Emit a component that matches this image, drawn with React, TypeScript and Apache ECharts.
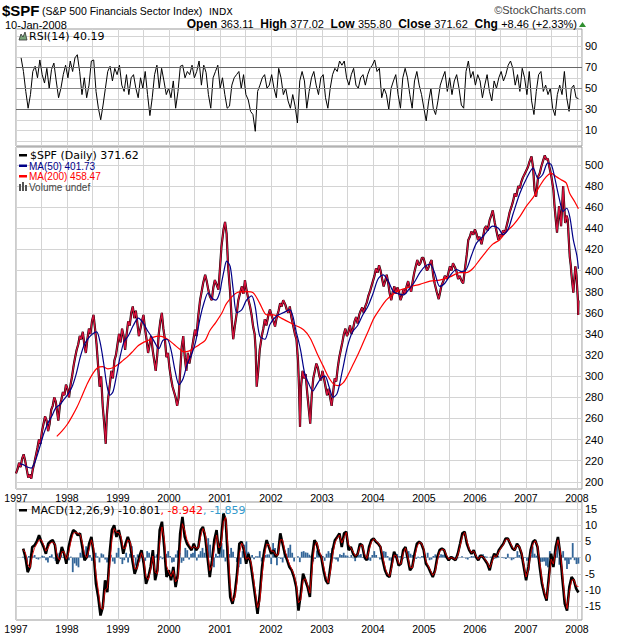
import React, { useEffect, useRef } from "react";
import * as echarts from "echarts";

// ---------- DATA ----------
const yearLabels = [1997, 1998, 1999, 2000, 2001, 2002, 2003, 2004, 2005, 2006, 2007, 2008];
const priceTicks = [200, 220, 240, 260, 280, 300, 320, 340, 360, 380, 400, 420, 440, 460, 480, 500];
const rsiGridTicks = [0, 10, 20, 30, 40, 50, 60, 70, 80, 90, 100];
const rsiLabelTicks = [10, 30, 50, 70, 90];
const macdTicks = [-15, -10, -5, 0, 5, 10, 15];

// $SPF daily close, [decimal year, value]
const spfClose: [number, number][] = [
  [1997.0, 208], [1997.03, 212], [1997.06, 218], [1997.09, 214], [1997.12, 222], [1997.15, 226], [1997.18, 220], [1997.21, 212], [1997.24, 204], [1997.27, 207], [1997.3, 203], [1997.33, 212], [1997.36, 218], [1997.39, 225], [1997.42, 232], [1997.45, 240], [1997.48, 236], [1997.51, 248], [1997.54, 255], [1997.57, 262], [1997.6, 258], [1997.63, 248], [1997.66, 255], [1997.69, 268], [1997.72, 272], [1997.75, 280], [1997.78, 276], [1997.81, 265], [1997.83, 258], [1997.86, 272], [1997.89, 278], [1997.92, 285], [1997.95, 282], [1997.98, 292],
  [1998.01, 288], [1998.04, 280], [1998.07, 292], [1998.1, 300], [1998.13, 310], [1998.16, 318], [1998.19, 325], [1998.22, 330], [1998.25, 338], [1998.28, 335], [1998.31, 342], [1998.34, 330], [1998.37, 322], [1998.4, 335], [1998.43, 345], [1998.46, 340], [1998.49, 352], [1998.52, 358], [1998.55, 345], [1998.58, 330], [1998.61, 310], [1998.64, 290], [1998.67, 300], [1998.7, 272], [1998.73, 255], [1998.76, 236], [1998.78, 262], [1998.81, 280], [1998.84, 292], [1998.87, 305], [1998.9, 298], [1998.93, 315], [1998.96, 320], [1998.99, 330],
  [1999.02, 340], [1999.05, 332], [1999.08, 345], [1999.11, 338], [1999.14, 325], [1999.17, 340], [1999.2, 352], [1999.23, 348], [1999.26, 360], [1999.29, 366], [1999.32, 355], [1999.35, 362], [1999.38, 350], [1999.41, 338], [1999.44, 345], [1999.47, 352], [1999.5, 358], [1999.53, 345], [1999.56, 335], [1999.59, 322], [1999.62, 330], [1999.65, 338], [1999.68, 325], [1999.71, 315], [1999.74, 305], [1999.77, 320], [1999.8, 340], [1999.83, 352], [1999.86, 360], [1999.89, 345], [1999.92, 335], [1999.95, 318], [1999.98, 322],
  [2000.01, 308], [2000.04, 298], [2000.07, 290], [2000.1, 285], [2000.13, 280], [2000.16, 272], [2000.19, 280], [2000.22, 305], [2000.25, 328], [2000.28, 338], [2000.31, 318], [2000.34, 305], [2000.37, 322], [2000.4, 312], [2000.43, 320], [2000.47, 332], [2000.51, 344], [2000.54, 338], [2000.57, 355], [2000.61, 372], [2000.64, 380], [2000.67, 388], [2000.71, 396], [2000.74, 390], [2000.77, 382], [2000.8, 376], [2000.84, 372], [2000.87, 384], [2000.9, 391], [2000.94, 386], [2000.97, 382],
  [2001.0, 402], [2001.03, 423], [2001.07, 439], [2001.1, 446], [2001.13, 435], [2001.16, 404], [2001.2, 379], [2001.23, 354], [2001.26, 335], [2001.29, 347], [2001.33, 360], [2001.36, 372], [2001.4, 380], [2001.43, 385], [2001.46, 378], [2001.49, 391], [2001.52, 382], [2001.56, 372], [2001.59, 366], [2001.62, 358], [2001.65, 347], [2001.68, 340], [2001.7, 325], [2001.72, 290], [2001.75, 305], [2001.78, 325], [2001.82, 338], [2001.85, 345], [2001.88, 354], [2001.91, 348], [2001.95, 358], [2001.98, 363],
  [2002.01, 358], [2002.05, 352], [2002.08, 347], [2002.11, 355], [2002.15, 362], [2002.18, 369], [2002.21, 366], [2002.24, 372], [2002.28, 368], [2002.31, 363], [2002.34, 360], [2002.37, 366], [2002.4, 356], [2002.44, 347], [2002.47, 340], [2002.5, 335], [2002.53, 315], [2002.55, 290], [2002.57, 252], [2002.59, 290], [2002.62, 305], [2002.65, 298], [2002.68, 302], [2002.71, 285], [2002.74, 270], [2002.77, 255], [2002.8, 282], [2002.83, 298], [2002.86, 305], [2002.89, 312], [2002.92, 308], [2002.95, 300], [2002.98, 296],
  [2003.01, 305], [2003.04, 298], [2003.07, 290], [2003.1, 282], [2003.13, 288], [2003.16, 280], [2003.19, 272], [2003.22, 285], [2003.25, 298], [2003.28, 295], [2003.31, 308], [2003.34, 318], [2003.37, 325], [2003.4, 332], [2003.43, 340], [2003.46, 345], [2003.49, 338], [2003.52, 342], [2003.55, 348], [2003.58, 340], [2003.61, 345], [2003.64, 352], [2003.67, 356], [2003.7, 350], [2003.73, 358], [2003.76, 362], [2003.79, 365], [2003.82, 360], [2003.85, 366], [2003.88, 370], [2003.91, 376], [2003.94, 380], [2003.97, 385],
  [2004.0, 390], [2004.03, 395], [2004.06, 402], [2004.09, 398], [2004.12, 405], [2004.15, 400], [2004.18, 392], [2004.21, 385], [2004.24, 390], [2004.27, 396], [2004.3, 388], [2004.33, 378], [2004.36, 372], [2004.39, 380], [2004.42, 385], [2004.45, 378], [2004.48, 384], [2004.51, 380], [2004.54, 372], [2004.57, 376], [2004.6, 382], [2004.63, 378], [2004.66, 385], [2004.69, 390], [2004.72, 384], [2004.75, 380], [2004.78, 390], [2004.81, 398], [2004.84, 404], [2004.87, 410], [2004.9, 405], [2004.93, 407], [2004.96, 412],
  [2004.99, 412], [2005.03, 405], [2005.06, 400], [2005.09, 403], [2005.12, 407], [2005.15, 410], [2005.18, 396], [2005.21, 388], [2005.25, 380], [2005.29, 373], [2005.32, 380], [2005.34, 385], [2005.38, 390], [2005.41, 395], [2005.45, 392], [2005.48, 398], [2005.51, 404], [2005.54, 400], [2005.57, 407], [2005.61, 403], [2005.64, 399], [2005.67, 392], [2005.7, 395], [2005.74, 390], [2005.77, 388], [2005.8, 400], [2005.84, 415], [2005.87, 429], [2005.9, 432], [2005.93, 437], [2005.97, 434],
  [2006.0, 439], [2006.03, 435], [2006.06, 429], [2006.09, 432], [2006.13, 425], [2006.16, 432], [2006.19, 440], [2006.22, 442], [2006.25, 438], [2006.29, 448], [2006.32, 452], [2006.35, 457], [2006.39, 445], [2006.42, 438], [2006.46, 429], [2006.49, 434], [2006.52, 432], [2006.55, 438], [2006.59, 436], [2006.62, 442], [2006.65, 448], [2006.68, 455], [2006.72, 461], [2006.75, 466], [2006.78, 473], [2006.81, 470], [2006.85, 480], [2006.88, 478], [2006.91, 484], [2006.94, 488], [2006.98, 492],
  [2007.01, 495], [2007.04, 498], [2007.07, 503], [2007.11, 508], [2007.14, 498], [2007.17, 476], [2007.2, 470], [2007.22, 480], [2007.24, 489], [2007.27, 492], [2007.3, 498], [2007.33, 503], [2007.37, 509], [2007.4, 505], [2007.43, 506], [2007.46, 498], [2007.5, 489], [2007.54, 476], [2007.56, 462], [2007.58, 451], [2007.61, 436], [2007.63, 448], [2007.65, 461], [2007.67, 452], [2007.69, 442], [2007.71, 460], [2007.73, 480], [2007.75, 462], [2007.77, 445], [2007.8, 452], [2007.82, 448], [2007.84, 430], [2007.86, 413], [2007.88, 405], [2007.89, 398], [2007.91, 388], [2007.93, 379], [2007.95, 392], [2007.97, 404], [2007.99, 396], [2008.0, 388], [2008.02, 372], [2008.025, 358], [2008.03, 371.62],
];

const ma50: [number, number][] = [
  [1997.08, 217], [1997.15, 216], [1997.22, 214], [1997.3, 213], [1997.38, 220], [1997.46, 232], [1997.54, 245], [1997.62, 255], [1997.7, 262], [1997.78, 270], [1997.86, 273], [1997.94, 278], [1998.02, 283], [1998.1, 290], [1998.18, 302], [1998.26, 318], [1998.34, 330], [1998.42, 336], [1998.5, 340], [1998.58, 342], [1998.65, 332], [1998.72, 312], [1998.78, 292], [1998.84, 282], [1998.9, 285], [1998.96, 298],
  [1999.04, 318], [1999.12, 333], [1999.2, 338], [1999.3, 348], [1999.4, 355], [1999.5, 350], [1999.58, 343], [1999.65, 338], [1999.72, 332], [1999.8, 326], [1999.88, 334], [1999.96, 335], [2000.04, 325], [2000.12, 305], [2000.2, 292], [2000.28, 298], [2000.36, 312], [2000.44, 320], [2000.52, 332], [2000.61, 355], [2000.69, 370], [2000.77, 379], [2000.84, 374], [2000.92, 372], [2001.0, 380], [2001.03, 388], [2001.08, 400], [2001.13, 409], [2001.2, 404], [2001.26, 382], [2001.33, 360], [2001.43, 363], [2001.52, 372], [2001.62, 376], [2001.69, 366], [2001.78, 338], [2001.88, 335], [2001.98, 349],
  [2002.11, 357], [2002.24, 360], [2002.37, 363], [2002.5, 341], [2002.58, 325], [2002.66, 303], [2002.74, 293], [2002.82, 286], [2002.9, 292], [2002.98, 298], [2003.06, 300], [2003.14, 290], [2003.22, 280], [2003.3, 284], [2003.4, 305], [2003.5, 328], [2003.6, 342], [2003.7, 348], [2003.8, 358], [2003.9, 366], [2004.0, 378], [2004.1, 392], [2004.2, 396], [2004.3, 390], [2004.4, 380], [2004.5, 378], [2004.6, 377], [2004.7, 382], [2004.8, 388], [2004.92, 398],
  [2005.02, 404], [2005.12, 406], [2005.21, 398], [2005.31, 385], [2005.41, 388], [2005.51, 395], [2005.64, 401], [2005.74, 399], [2005.83, 401], [2005.93, 414], [2006.03, 426], [2006.13, 431], [2006.22, 436], [2006.35, 442], [2006.46, 440], [2006.55, 434], [2006.65, 439], [2006.75, 454], [2006.88, 473], [2007.01, 487], [2007.14, 497], [2007.24, 487], [2007.33, 491], [2007.43, 502], [2007.5, 500], [2007.56, 489], [2007.66, 467], [2007.73, 456], [2007.8, 459], [2007.86, 451], [2007.93, 429], [2008.0, 414], [2008.03, 401.73],
];

const ma200: [number, number][] = [
  [1997.8, 243], [1997.9, 248], [1998.0, 254], [1998.1, 262], [1998.2, 271], [1998.3, 282], [1998.4, 293], [1998.5, 302], [1998.6, 308], [1998.7, 309], [1998.8, 307], [1998.9, 308], [1999.0, 311], [1999.1, 315], [1999.2, 319], [1999.3, 324], [1999.4, 329], [1999.5, 332], [1999.6, 334], [1999.7, 337], [1999.8, 338], [1999.9, 337], [2000.0, 334], [2000.1, 330], [2000.2, 326], [2000.3, 323], [2000.4, 324], [2000.5, 327], [2000.6, 330], [2000.71, 334], [2000.8, 343], [2000.92, 351],
  [2001.04, 360], [2001.13, 369], [2001.33, 379], [2001.52, 380], [2001.65, 379], [2001.78, 369], [2001.92, 358], [2002.05, 358], [2002.24, 354], [2002.44, 349], [2002.64, 344], [2002.77, 336], [2002.9, 322], [2003.02, 310], [2003.12, 300], [2003.22, 293], [2003.32, 291], [2003.42, 294], [2003.52, 302], [2003.62, 312], [2003.72, 322], [2003.82, 333], [2003.92, 344], [2004.02, 355], [2004.14, 364], [2004.26, 372], [2004.38, 377], [2004.5, 381], [2004.62, 383], [2004.75, 385], [2004.92, 387],
  [2005.12, 390], [2005.31, 391], [2005.51, 394], [2005.7, 398], [2005.83, 398], [2005.96, 402], [2006.09, 410], [2006.22, 418], [2006.35, 425], [2006.48, 429], [2006.62, 437], [2006.75, 443], [2006.88, 451], [2007.01, 461], [2007.14, 469], [2007.27, 480], [2007.4, 489], [2007.5, 492], [2007.59, 489], [2007.69, 486], [2007.79, 483], [2007.86, 473], [2007.96, 465], [2008.03, 458.47],
];

// RSI(14), evenly spaced from rsiStart to rsiEnd
const rsiStart = 1997.1;
const rsiEnd = 2008.03;
const rsiValues = [
  79, 66, 47, 31, 44, 66, 71, 60, 77, 63, 55, 69, 50, 68, 74, 57, 41, 50, 63, 72,
  60, 76, 66, 79, 82, 66, 44, 60, 41, 53, 76, 77, 47, 31, 20, 34, 50, 66, 71, 57,
  69, 63, 72, 53, 47, 63, 44, 60, 63, 50, 41, 60, 50, 66, 44, 24, 41, 63, 72, 50,
  69, 57, 44, 50, 41, 57, 31, 47, 71, 72, 60, 66, 63, 72, 60, 66, 76, 53, 72, 65,
  44, 31, 60, 66, 72, 50, 60, 44, 31, 33, 53, 60, 63, 66, 50, 63, 44, 39, 28, 25,
  9, 47, 53, 60, 63, 50, 53, 63, 50, 41, 69, 60, 44, 50, 38, 31, 44, 33, 17, 57,
  66, 57, 31, 47, 60, 66, 53, 44, 60, 63, 41, 31, 50, 63, 69, 66, 76, 72, 76, 60,
  53, 63, 69, 53, 50, 60, 63, 53, 63, 69, 72, 77, 66, 69, 41, 50, 44, 30, 50, 57,
  63, 44, 31, 60, 69, 60, 44, 31, 57, 66, 53, 44, 31, 19, 37, 50, 31, 25, 38, 53,
  60, 66, 47, 60, 44, 57, 63, 50, 34, 31, 66, 76, 60, 66, 53, 63, 57, 41, 53, 63,
  47, 38, 57, 50, 60, 66, 57, 63, 72, 76, 69, 53, 63, 47, 69, 60, 44, 66, 38, 25,
  47, 63, 66, 47, 53, 44, 50, 31, 24, 44, 53, 44, 66, 41, 28, 50, 53, 41, 40.19,
];

// MACD(12,26,9), evenly spaced from macdStart to macdEnd
const macdStart = 1997.14;
const macdEnd = 2008.03;
const macdLine = [
  2.8, 0.2, -4.5, -2.9, 3.3, 3.8, 5.0, 6.9, 4.9, 3.3, 1.2, 4.3, 5.0, 5.4, 3.8, -1.9, -0.3, 3.3, 1.2, -1.9,
  3.3, 6.4, 8.5, 8.0, 6.9, 7.5, 3.3, -0.8, 0.2, 4.3, 6.4, 1.2, -8.1, -12.2, -17.9, -15.3, -7.0, -10.7, 1.2, 8.5,
  10.0, 6.4, 8.5, 5.4, 1.2, 4.3, 6.4, 4.3, -0.8, -5.0, -2.9, 0.2, 2.3, -1.9, -8.1, -6.0, -2.9, 2.3, -7.0, -3.9,
  8.5, 11.1, 3.3, -6.0, -3.9, -7.0, -2.9, -9.1, -5.0, 7.5, 12.6, 6.4, 4.3, 3.3, 2.3, 4.3, 2.3, 3.3, 8.5, 9.5,
  6.4, 0.2, -6.0, -0.8, 5.4, 8.5, 1.2, 5.4, 13.7, 11.6, -0.8, -12.2, -14.3, -11.2, -5.0, 4.3, 4.9, 2.3, -1.9, 1.2,
  -1.9, -7.0, -12.2, -17.4, -11.2, -2.9, 2.3, 5.4, 3.3, 1.2, 2.3, 0.2, 1.2, 7.5, 4.3, 1.2, -0.8, -2.9, -3.9, -6.0,
  -9.1, -16.4, -11.2, -5.0, -7.0, -9.1, -12.2, 0.2, 5.4, 4.3, 1.2, 0.2, -3.9, -7.0, -8.1, -2.9, 2.3, 5.4, 6.4, 7.5,
  3.3, 7.5, 8.0, 2.3, 3.3, 1.2, 0.2, 1.2, 4.3, 3.8, 0.2, -0.8, 3.3, 5.4, 5.9, 4.9, 4.3, 3.3, -0.8, -3.9,
  -5.5, -6.0, -1.9, 1.8, 0.2, -2.4, -1.9, 2.3, 3.3, -0.3, -3.9, -2.9, 1.2, 4.3, 4.9, 4.3, 2.3, -1.9, -2.9, -4.5,
  -6.0, -3.9, 0.2, 2.3, 2.8, 2.3, 0.2, -0.8, 0.2, -0.3, -0.8, 1.2, 4.3, 7.5, 8.0, 4.3, 2.3, 1.2, 2.3, 0.2,
  -0.8, 0.7, 0.2, -0.8, -1.9, -3.9, -0.8, 1.2, 0.2, 2.3, 3.3, 4.3, 5.9, 5.9, 4.3, 2.8, 2.3, 4.3, 3.3, 1.2,
  -2.9, -7.0, -2.9, 2.3, 4.9, 5.4, 3.3, -2.9, -8.1, -11.2, -13.3, -6.0, 1.2, -2.9, 3.3, 6.4, 1.2, -7.0, -14.3, -16.4,
  -9.1, -6.0, -7.0, -9.6, -10.801,
];
const macdSignal = [
  2.5, 1.5, -2.0, -3.2, 0.5, 3.0, 4.2, 5.5, 5.5, 4.0, 2.0, 3.0, 4.5, 4.8, 4.2, 0.5, -0.8, 1.8, 1.8, -0.5,
  1.5, 5.0, 7.5, 7.8, 7.5, 7.2, 4.8, 1.0, 0.0, 2.5, 5.5, 3.0, -5.0, -10.0, -15.5, -16.0, -10.0, -9.5, -3.0, 5.5,
  9.0, 7.8, 7.8, 6.5, 2.8, 3.0, 5.5, 5.0, 1.0, -3.5, -3.5, -1.0, 1.5, -0.5, -6.0, -6.8, -4.0, 0.5, -4.5, -5.0,
  4.5, 9.5, 6.0, -2.5, -4.5, -5.8, -4.0, -7.5, -6.5, 3.0, 10.5, 8.5, 5.5, 4.0, 2.8, 3.5, 3.0, 3.0, 6.5, 9.0,
  7.5, 2.5, -4.0, -2.5, 3.0, 7.0, 3.0, 3.8, 11.0, 12.5, 3.5, -8.5, -13.5, -12.5, -7.5, 1.0, 4.5, 3.2, -0.5, 0.0,
  -1.0, -5.0, -10.5, -15.5, -13.5, -5.5, 0.5, 4.2, 4.0, 2.0, 2.0, 0.8, 0.8, 5.5, 5.5, 2.2, 0.0, -2.0, -3.5, -5.2,
  -8.0, -14.0, -13.0, -7.0, -6.5, -8.5, -11.0, -3.5, 3.5, 4.8, 2.2, 0.5, -2.5, -5.8, -7.8, -4.5, 0.8, 4.5, 6.0, 7.0,
  4.5, 6.2, 7.8, 4.0, 3.0, 1.8, 0.5, 1.0, 3.5, 4.0, 1.2, -0.3, 2.2, 4.8, 5.8, 5.2, 4.5, 3.5, 0.5, -3.0,
  -5.0, -5.8, -3.0, 0.8, 0.6, -1.8, -2.0, 1.2, 3.0, 0.5, -3.0, -3.2, 0.0, 3.2, 4.7, 4.5, 2.8, -1.0, -2.5, -4.0,
  -5.5, -4.5, -1.0, 1.8, 2.6, 2.4, 0.8, -0.5, 0.0, -0.2, -0.6, 0.7, 3.5, 6.5, 7.8, 5.2, 2.8, 1.5, 2.0, 0.6,
  -0.5, 0.4, 0.3, -0.5, -1.5, -3.2, -1.5, 0.6, 0.3, 1.8, 3.0, 4.0, 5.5, 5.8, 4.7, 3.2, 2.4, 3.8, 3.5, 1.6,
  -2.0, -6.0, -3.8, 1.2, 4.2, 5.2, 3.8, -1.5, -6.8, -10.5, -12.8, -7.5, -0.5, -2.0, 2.0, 5.5, 2.2, -5.0, -12.5, -15.8,
  -10.8, -7.0, -6.8, -8.8, -8.942,
];
const macdHist = [
  0.3, -0.5, -1.5, 0.5, 1.2, 0.4, 0.8, -0.4, -0.6, -0.2, 0.6, 0.4, -0.8, -1.5, 0.5, 1.0, -0.3, -1.0, 1.2,
  1.5, 0.8, 0.2, -0.5, 0.6, -0.8, 0.3, -4.5, -1.8, -2.5, -3.0, 1.5, 2.2, -0.8, 3.5, 2.5, 0.8, -1.0, 0.6, 1.5, 0.4, -1.5, 1.3, 1.0, -0.6, -1.5, 0.7,
  0.9, -1.2, -1.9, 1.5, 3.0, -0.4, -2.0, -0.8, 1.5, -1.5, 1.2, 3.5, 0.8, -2.5, 1.0, -1.2, 1.5, -1.5, -1.0, 2.0, 1.5, -2.0, 0.5, 0.4, 1.0, -0.8, 0.4,
  -0.5, 0.2, 1.2, 2.0, 0.5, -1.5, -1.3, 1.0, 2.2, 1.5, -1.6, -1.0, 3.0, 2.3, -0.6, 1.2, 1.5, 2.5, -0.9, 1.0, 2.0, 3.0, 1.5, 2.7, 6.0, 4.0, -2.5,
  -3.0, 1.2, 0.5, 3.0, 4.5, 2.5, -1.2, 3.5, 1.1, 3.0, 1.8, 0.2, -1.4, -3.0, -2.0, 2.0, 4.0, 5.0, 1.8, -0.6, 0.8, -0.5, 0.4, 0.4, 2.0, -1.2, 1.0,
  0.8, 1.0, 1.0, -2.0, 4.5, 3.0, -2.4, 0.2, -0.4, -1.5, 2.0, 1.0, 3.0, 4.0, 1.5, -1.2, 0.0, 0.4, -1.4, 1.8, 2.0, 1.6, 1.5, 0.9, 0.5, -1.2, -0.4,
  2.2, 2.5, 0.9, 0.5, -1.0, 1.2, 2.0, 1.4, 3.0, -0.3, -0.6, -1.2, 1.0, 0.8, 1.5, 0.7, 0.6, 0.1, 0.8, -0.2, -1.1, 0.6, 0.9, 1.1, 0.2, -0.6, -0.5,
  -0.8, -1.0, 0.8, 2.0, 0.8, 0.0, -0.6, -0.4, 2.0, 1.8, 0.5, -0.9, -1.1, 1.0, 0.8, 1.1, 0.4, 0.5, -0.5, 0.2, 1.5, 2.0, 1.2, 0.8, -0.4, -0.4, 0.3,
  -0.2, 0.5, 0.6, -0.1, 1.5, -0.8, -0.6, 0.5, 1.0, 0.2, 0.5, 1.0, 0.9, 1.5, 0.5, -1.0, 0.4, 0.4, 0.2, -0.6, -0.2, 0.1, 0.4, 0.1, -0.3, -0.6, 0.2,
  0.5, 0.4, 0.1, -0.4, 0.7, 0.2, 1.0, 0.4, 0.3, 0.0, 0.3, 0.3, -0.4, -0.2, 0.5, 0.0, 0.2, -0.2, -0.4, 1.2, -0.2, -0.8, -0.5, 0.2, 2.0, 0.8, -0.3,
  -0.6, 0.2, -1.0, -4.0, 0.9, 3.5, 1.2, 0.6, -0.5, -1.3, -1.3, -1.2, -2.5, -3.0, 2.0, -0.9, -2.5, 1.5, 4.0, -2.2, 0.8, 2.0, -0.9, -3.5, -2.0, -0.6, 4.5,
  -0.8, -2.0, -1.859,
];

// ---------- helpers ----------
const spread = (vals: number[], start: number, end: number): [number, number][] =>
  vals.map((v, i) => [start + (i * (end - start)) / (vals.length - 1), v]);

const X_MIN = 1997;
const X_MAX = 2008.1;
const GRID_LEFT = 16;
const GRID_RIGHT = 38;
const SPLIT = "#d4d4d4";
const FONT = "Liberation Sans, Arial, sans-serif";
const DV = "DejaVu Sans, Verdana, sans-serif";

function xAxis(gridIndex: number, showLabels: boolean) {
  return {
    type: "value",
    gridIndex,
    min: X_MIN,
    max: X_MAX,
    interval: 0.5,
    axisLine: { show: false },
    axisTick: { show: false },
    splitLine: { show: true, lineStyle: { color: SPLIT, width: 1 } },
    axisLabel: {
      show: showLabels,
      margin: 3,
      fontSize: 10.5,
      fontFamily: FONT,
      color: "#000",
      showMaxLabel: false,
      formatter: (v: number) => {
        const r = Math.round(v);
        return Math.abs(v - r) < 1e-6 && yearLabels.includes(r) ? String(r) : "";
      },
    },
  };
}

function yAxis(gridIndex: number, min: number, max: number, gridVals: number[], labelVals: number[]) {
  return {
    type: "value",
    gridIndex,
    position: "right",
    min,
    max,
    axisLine: { show: false },
    axisTick: { show: false, customValues: gridVals },
    splitLine: { show: true, lineStyle: { color: SPLIT, width: 1 } },
    axisLabel: {
      customValues: labelVals,
      margin: 3,
      fontSize: 11,
      fontFamily: FONT,
      color: "#000",
    },
  };
}

export default function App() {
  const ref = useRef<HTMLDivElement>(null);

  useEffect(() => {
    if (!ref.current) return;
    const chart = echarts.init(ref.current, null, { renderer: "svg" });

    const gridBox = { show: true, borderColor: "#999", borderWidth: 1, backgroundColor: "#fff" };

    const option: any = {
      animation: false,
      backgroundColor: "#fff",
      grid: [
        { left: GRID_LEFT, right: GRID_RIGHT, top: 29, height: 117, ...gridBox },
        { left: GRID_LEFT, right: GRID_RIGHT, top: 147, height: 342, ...gridBox },
        { left: GRID_LEFT, right: GRID_RIGHT, top: 502, height: 118, ...gridBox },
      ],
      xAxis: [xAxis(0, false), xAxis(1, true), xAxis(2, true)],
      yAxis: [
        yAxis(0, -5, 106.5, rsiGridTicks, rsiLabelTicks),
        yAxis(1, 193.2, 517, priceTicks, priceTicks),
        yAxis(2, -19.3, 17.2, macdTicks, macdTicks),
      ],
      series: [
        {
          name: "RSI",
          type: "line",
          xAxisIndex: 0,
          yAxisIndex: 0,
          data: spread(rsiValues, rsiStart, rsiEnd),
          symbol: "none",
          lineStyle: { color: "#000", width: 1 },
          markLine: {
            silent: true,
            symbol: "none",
            label: { show: false },
            lineStyle: { color: "#666", type: "solid", width: 1 },
            data: [{ yAxis: 70 }, { yAxis: 30 }, { yAxis: 50, lineStyle: { color: "#888", type: "solid", width: 1 } }],
          },
          z: 3,
        },
        {
          name: "SPF-under",
          type: "line",
          xAxisIndex: 1,
          yAxisIndex: 1,
          data: spfClose,
          symbol: "none",
          lineStyle: { color: "#000", width: 2.2 },
          z: 2,
        },
        {
          name: "SPF",
          type: "line",
          xAxisIndex: 1,
          yAxisIndex: 1,
          data: spfClose,
          symbol: "none",
          lineStyle: { color: "#d8103c", width: 1.3 },
          z: 3,
        },
        {
          name: "MA200",
          type: "line",
          xAxisIndex: 1,
          yAxisIndex: 1,
          data: ma200,
          symbol: "none",
          smooth: 0.3,
          lineStyle: { color: "#ff0000", width: 1.2 },
          z: 4,
        },
        {
          name: "MA50",
          type: "line",
          xAxisIndex: 1,
          yAxisIndex: 1,
          data: ma50,
          symbol: "none",
          smooth: 0.3,
          lineStyle: { color: "#000088", width: 1.2 },
          z: 5,
        },
        {
          name: "Histogram",
          type: "bar",
          xAxisIndex: 2,
          yAxisIndex: 2,
          data: spread(macdHist, macdStart, macdEnd),
          barWidth: 1.8,
          itemStyle: { color: "#336699" },
          z: 2,
        },
        {
          name: "MACD",
          type: "line",
          xAxisIndex: 2,
          yAxisIndex: 2,
          data: spread(macdLine, macdStart, macdEnd),
          symbol: "none",
          lineStyle: { color: "#000", width: 2.6 },
          z: 3,
        },
        {
          name: "Signal",
          type: "line",
          xAxisIndex: 2,
          yAxisIndex: 2,
          data: spread(macdSignal, macdStart, macdEnd),
          symbol: "none",
          lineStyle: { color: "#e00000", width: 0.9 },
          z: 4,
        },
      ],
      graphic: [
        // header
        { type: "text", x: 2, y: 10, z: 100, style: { text: "$SPF", font: `bold 15px ${FONT}`, fill: "#000", textVerticalAlign: "middle" } },
        { type: "text", x: 42, y: 11, z: 100, style: { text: "(S&P 500 Financials Sector Index)", font: `10.5px ${FONT}`, fill: "#000", textVerticalAlign: "middle" } },
        { type: "text", x: 209, y: 11, z: 100, style: { text: "INDX", font: `9.5px ${DV}`, fill: "#000", textVerticalAlign: "middle" } },
        { type: "text", x: 5, y: 24.5, z: 100, style: { text: "10-Jan-2008", font: `11px ${FONT}`, fill: "#000", textVerticalAlign: "middle" } },
        {
          type: "text",
          x: 577,
          y: 24,
          z: 100,
          style: {
            text: "{b|Open} {n|363.11}  {b|High} {n|377.02}  {b|Low} {n|355.80}  {b|Close} {n|371.62}  {b|Chg} {n|+8.46 (+2.33%)}",
            textAlign: "right",
            textVerticalAlign: "middle",
            rich: {
              b: { font: `bold 12px ${FONT}`, fill: "#000" },
              n: { font: `11px ${FONT}`, fill: "#000" },
            },
          },
        },
        { type: "polygon", z: 100, shape: { points: [[579, 27], [586, 27], [582.5, 22]] }, style: { fill: "#2f8f2f" } },
        { type: "text", x: 586, y: 10, z: 100, style: { text: "©StockCharts.com", font: `11px ${FONT}`, fill: "#444", textAlign: "right", textVerticalAlign: "middle" } },

        // RSI legend
        { type: "polygon", z: 100, shape: { points: [[19, 40], [21, 34], [23, 37], [25, 32], [27, 40]] }, style: { fill: "#7aa67a", stroke: "#333", lineWidth: 0.8 } },
        { type: "text", x: 29, y: 36, z: 100, style: { text: "RSI(14) 40.19", font: `11px ${DV}`, fill: "#000", textVerticalAlign: "middle" } },

        // main legend
        { type: "rect", z: 100, shape: { x: 19, y: 154, width: 8, height: 2.5 }, style: { fill: "#000" } },
        { type: "text", x: 30, y: 155.5, z: 100, style: { text: "$SPF (Daily) 371.62", font: `11px ${DV}`, fill: "#000", textVerticalAlign: "middle" } },
        { type: "rect", z: 100, shape: { x: 19, y: 164.5, width: 8, height: 2.5 }, style: { fill: "#000088" } },
        { type: "text", x: 29, y: 166, z: 100, style: { text: "MA(50) 401.73", font: `10px ${FONT}`, fill: "#000088", textVerticalAlign: "middle" } },
        { type: "rect", z: 100, shape: { x: 19, y: 175, width: 8, height: 2.5 }, style: { fill: "#ff0000" } },
        { type: "text", x: 29, y: 176.5, z: 100, style: { text: "MA(200) 458.47", font: `10px ${FONT}`, fill: "#ff0000", textVerticalAlign: "middle" } },
        { type: "rect", z: 100, shape: { x: 19, y: 184, width: 2, height: 7 }, style: { fill: "#555" } },
        { type: "rect", z: 100, shape: { x: 22, y: 182, width: 2, height: 9 }, style: { fill: "#555" } },
        { type: "rect", z: 100, shape: { x: 25, y: 185, width: 2, height: 6 }, style: { fill: "#555" } },
        { type: "text", x: 29, y: 187, z: 100, style: { text: "Volume undef", font: `10px ${FONT}`, fill: "#444", textVerticalAlign: "middle" } },

        // MACD legend
        { type: "rect", z: 100, shape: { x: 19, y: 509, width: 8, height: 2.5 }, style: { fill: "#000" } },
        {
          type: "text",
          x: 31,
          y: 510.5,
          z: 100,
          style: {
            text: "{k|MACD(12,26,9) -10.801}{r|, -8.942}{b|, -1.859}",
            textVerticalAlign: "middle",
            rich: {
              k: { font: `11px ${DV}`, fill: "#000" },
              r: { font: `11px ${DV}`, fill: "#ff0000" },
              b: { font: `11px ${DV}`, fill: "#3399cc" },
            },
          },
        },
      ],
    };

    chart.setOption(option);
    return () => chart.dispose();
  }, []);

  return (
    <div
      ref={ref}
      style={{ position: "fixed", left: 0, top: 0, width: 620, height: 639, background: "#fff" }}
    />
  );
}
